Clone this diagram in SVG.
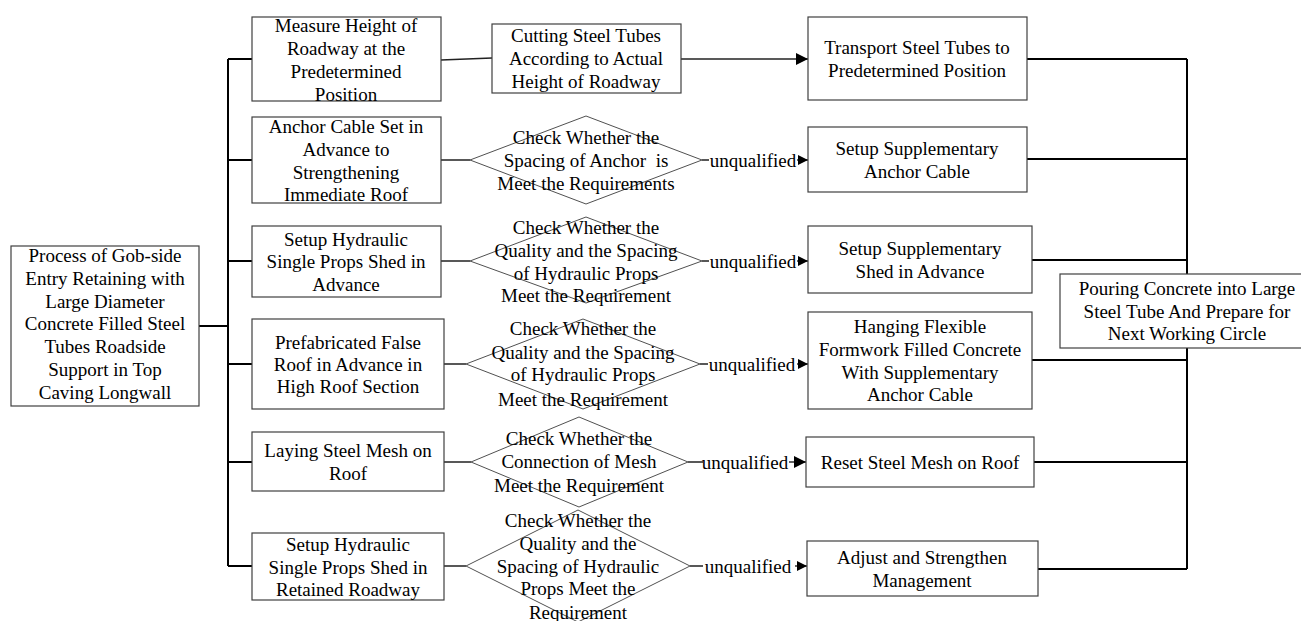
<svg xmlns="http://www.w3.org/2000/svg" width="1301" height="621" viewBox="0 0 1301 621">
<defs>
<style>
.box{fill:#fff;stroke:#404040;stroke-width:1.2}
.dia{fill:none;stroke:#505050;stroke-width:1}
.bus{fill:none;stroke:#000;stroke-width:2}
.ln{fill:none;stroke:#222;stroke-width:1.4}
text{font-family:"Liberation Serif","Times New Roman",serif;font-size:19px;fill:#000;text-anchor:middle;dominant-baseline:central}
.pre{white-space:pre}
</style>
<marker id="big" viewBox="0 0 10 10" refX="10" refY="5" markerWidth="15" markerHeight="12" markerUnits="userSpaceOnUse" orient="auto"><path d="M0,0 L10,5 L0,10 z" fill="#000"/></marker>
<marker id="sm" viewBox="0 0 10 10" refX="10" refY="5" markerWidth="10" markerHeight="10" markerUnits="userSpaceOnUse" orient="auto"><path d="M0,0 L10,5 L0,10 z" fill="#000"/></marker>
</defs>
<rect width="1301" height="621" fill="#fff"/>
<g id="connectors">
<path class="bus" d="M199,326 H228 M228,59 V566 M228,59 H252 M228,160 H252 M228,261 H252 M228,364 H252 M228,462 H252 M228,566 H252"/>
<path class="ln" d="M441,60 L492,58 M441,160 H470 M441,261 H470 M444,364 H466 M444,462 H471 M444,566 H466"/>
<line class="ln" x1="681" y1="59" x2="808" y2="59" marker-end="url(#big)"/>
<path class="ln" d="M702,160 H709 M702,261 H709 M700,364 H708 M688,462 H703 M690,566 H703"/>
<line class="ln" x1="797" y1="160" x2="808" y2="160" marker-end="url(#sm)"/>
<line class="ln" x1="797" y1="261" x2="808" y2="261" marker-end="url(#sm)"/>
<line class="ln" x1="797" y1="364" x2="808" y2="364" marker-end="url(#sm)"/>
<line class="ln" x1="789" y1="462" x2="806" y2="462" marker-end="url(#big)"/>
<line class="ln" x1="795" y1="566" x2="807" y2="566" marker-end="url(#sm)"/>
<path class="bus" d="M1027,59 H1187 M1027,159 H1187 M1032,260 H1187 M1032,360 H1187 M1034,462 H1187 M1038,569 H1187 M1187,59 V569"/>
<text x="753" y="160">unqualified</text>
<text x="753" y="261">unqualified</text>
<text x="752" y="364">unqualified</text>
<text x="745" y="462">unqualified</text>
<text x="748" y="566">unqualified</text>
</g>
<g id="start">
<rect class="box" x="11" y="246" width="188" height="160"/>
<text x="105" y="255">Process of Gob-side</text>
<text x="105" y="278">Entry Retaining with</text>
<text x="105" y="301">Large Diameter</text>
<text x="105" y="323">Concrete Filled Steel</text>
<text x="105" y="346">Tubes Roadside</text>
<text x="105" y="369">Support in Top</text>
<text x="105" y="392">Caving Longwall</text>
</g>
<g id="measure">
<rect class="box" x="252" y="17" width="189" height="84"/>
<text x="346" y="25">Measure Height of</text>
<text x="346" y="48">Roadway at the</text>
<text x="346" y="71">Predetermined</text>
<text x="346" y="94">Position</text>
</g>
<g id="anchor">
<rect class="box" x="252" y="117" width="189" height="86"/>
<text x="346" y="126">Anchor Cable Set in</text>
<text x="346" y="149">Advance to</text>
<text x="346" y="172">Strengthening</text>
<text x="346" y="194">Immediate Roof</text>
</g>
<g id="props">
<rect class="box" x="252" y="226" width="189" height="71"/>
<text x="346" y="239">Setup Hydraulic</text>
<text x="346" y="261">Single Props Shed in</text>
<text x="346" y="284">Advance</text>
</g>
<g id="falseroof">
<rect class="box" x="252" y="319" width="192" height="90"/>
<text x="348" y="342">Prefabricated False</text>
<text x="348" y="364">Roof in Advance in</text>
<text x="348" y="386">High Roof Section</text>
</g>
<g id="mesh">
<rect class="box" x="252" y="432" width="192" height="59"/>
<text x="348" y="450">Laying Steel Mesh on</text>
<text x="348" y="473">Roof</text>
</g>
<g id="retained">
<rect class="box" x="252" y="533" width="192" height="67"/>
<text x="348" y="544">Setup Hydraulic</text>
<text x="348" y="567">Single Props Shed in</text>
<text x="348" y="589">Retained Roadway</text>
</g>
<g id="cutting">
<rect class="box" x="492" y="24" width="189" height="69"/>
<text x="586" y="35">Cutting Steel Tubes</text>
<text x="586" y="58">According to Actual</text>
<text x="586" y="81">Height of Roadway</text>
</g>
<g id="check1">
<polygon class="dia" points="586,116 702,160 586,204 470,160"/>
<text x="586" y="137">Check Whether the</text>
<text x="586" y="160" class="pre">Spacing of Anchor  is</text>
<text x="586" y="183">Meet the Requirements</text>
</g>
<g id="check2">
<polygon class="dia" points="586,217 702,261 586,303 470,261"/>
<text x="586" y="227">Check Whether the</text>
<text x="586" y="250">Quality and the Spacing</text>
<text x="586" y="273">of Hydraulic Props</text>
<text x="586" y="295">Meet the Requirement</text>
</g>
<g id="check3">
<polygon class="dia" points="583,319 700,364 583,409 466,364"/>
<text x="583" y="328">Check Whether the</text>
<text x="583" y="352">Quality and the Spacing</text>
<text x="583" y="374">of Hydraulic Props</text>
<text x="583" y="399">Meet the Requirement</text>
</g>
<g id="check4">
<polygon class="dia" points="579,417 688,462 579,507 471,462"/>
<text x="579" y="438">Check Whether the</text>
<text x="579" y="461">Connection of Mesh</text>
<text x="579" y="485">Meet the Requirement</text>
</g>
<g id="check5">
<polygon class="dia" points="578,510 690,566 578,622 466,566"/>
<text x="578" y="520">Check Whether the</text>
<text x="578" y="543">Quality and the</text>
<text x="578" y="566">Spacing of Hydraulic</text>
<text x="578" y="588">Props Meet the</text>
<text x="578" y="612">Requirement</text>
</g>
<g id="transport">
<rect class="box" x="808" y="17" width="219" height="83"/>
<text x="917" y="47">Transport Steel Tubes to</text>
<text x="917" y="70">Predetermined Position</text>
</g>
<g id="suppanchor">
<rect class="box" x="808" y="127" width="219" height="65"/>
<text x="917" y="148">Setup Supplementary</text>
<text x="917" y="171">Anchor Cable</text>
</g>
<g id="suppshed">
<rect class="box" x="808" y="226" width="224" height="67"/>
<text x="920" y="248">Setup Supplementary</text>
<text x="920" y="271">Shed in Advance</text>
</g>
<g id="hanging">
<rect class="box" x="808" y="312" width="224" height="97"/>
<text x="920" y="326">Hanging Flexible</text>
<text x="920" y="349">Formwork Filled Concrete</text>
<text x="920" y="372">With Supplementary</text>
<text x="920" y="394">Anchor Cable</text>
</g>
<g id="resetmesh">
<rect class="box" x="806" y="437" width="228" height="50"/>
<text x="920" y="462">Reset Steel Mesh on Roof</text>
</g>
<g id="adjust">
<rect class="box" x="807" y="541" width="231" height="55"/>
<text x="922" y="557">Adjust and Strengthen</text>
<text x="922" y="580">Management</text>
</g>
<g id="pouring">
<rect class="box" x="1060" y="274" width="254" height="74"/>
<text x="1187" y="288">Pouring Concrete into Large</text>
<text x="1187" y="311">Steel Tube And Prepare for</text>
<text x="1187" y="333">Next Working Circle</text>
</g>
</svg>
